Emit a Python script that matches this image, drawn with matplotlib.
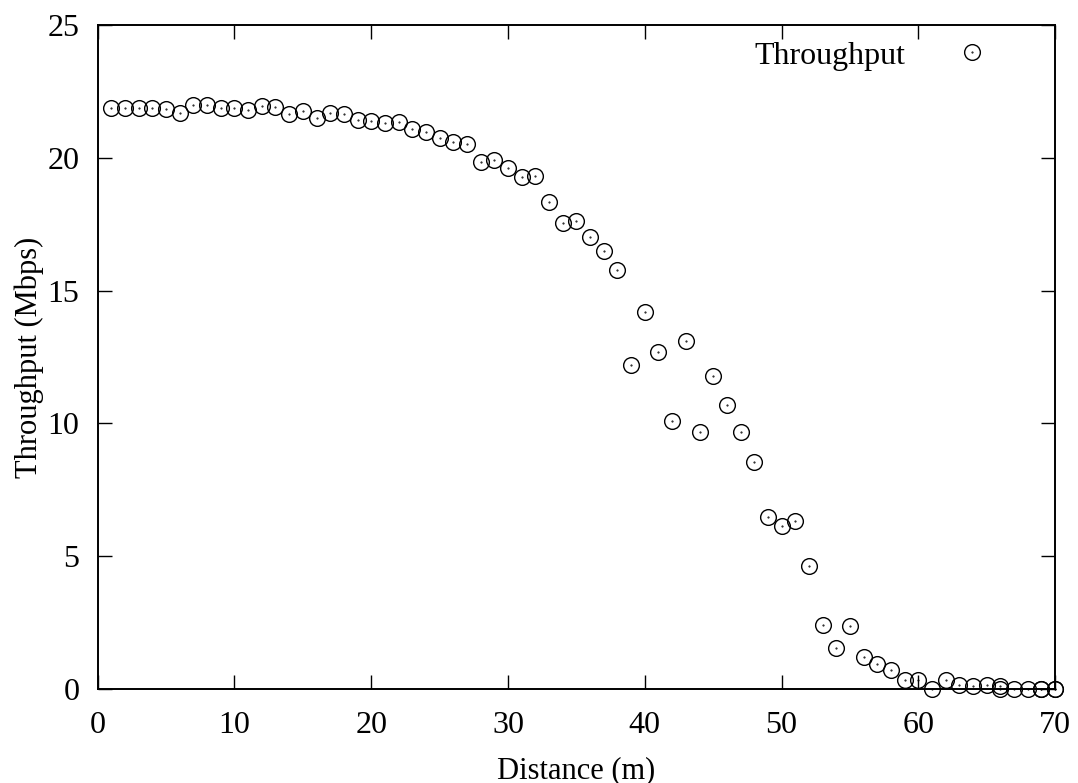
import matplotlib
matplotlib.use("Agg")
import matplotlib.pyplot as plt
from matplotlib.legend_handler import HandlerTuple

distance = list(range(1, 67)) + [66, 67, 68, 69, 69, 70, 70]
throughput = [
    21.87, 21.87, 21.87, 21.87, 21.85, 21.68, 21.99, 21.98, 21.89, 21.88,
    21.80, 21.95, 21.92, 21.65, 21.78, 21.50, 21.70, 21.65, 21.44, 21.40,
    21.30, 21.35, 21.08, 20.99, 20.73, 20.60, 20.54, 19.85, 19.92, 19.62,
    19.29, 19.33, 18.33, 17.53, 17.61, 17.01, 16.48, 15.79, 12.19, 14.21,
    12.69, 10.10, 13.09, 9.67, 11.80, 10.71, 9.66, 8.53, 6.49, 6.14,
    6.32, 4.62, 2.42, 1.55, 2.37, 1.21, 0.94, 0.71, 0.33, 0.34,
    0.01, 0.33, 0.16, 0.11, 0.16, 0.11,
    0.0, 0.0, 0.0, 0.0, 0.0, 0.0, 0.0,
]

plt.rcParams['font.family'] = ['Liberation Serif', 'DejaVu Serif']
plt.rcParams['font.size'] = 22

fig = plt.figure(figsize=(10.78, 7.83), dpi=100)
ax = fig.add_axes([0.0906, 0.120, 0.8882, 0.848])

ring, = ax.plot(distance, throughput, 'o', ms=11.3, mfc='none', mec='black',
                mew=1.0, clip_on=False)
dot, = ax.plot(distance, throughput, '.', ms=1.0, color='black',
               clip_on=False)

ax.set_xlim(0, 70)
ax.set_ylim(0, 25)
ax.set_xticks(range(0, 71, 10))
ax.set_yticks(range(0, 26, 5))
ax.tick_params(direction='in', length=10, width=1.0, top=True, right=True,
               labelsize=23)
ax.tick_params(axis='x', pad=16)
ax.tick_params(axis='y', pad=13)
for s in ax.spines.values():
    s.set_linewidth(1.4)

ax.set_xlabel('Distance (m)', fontsize=22)
ax.set_ylabel('Throughput (Mbps)', fontsize=22)
ax.xaxis.set_label_coords(0.5, -0.101)
ax.yaxis.set_label_coords(-0.056, 0.5)

ax.legend([(ring, dot)], ['Throughput'], loc='upper right',
          handler_map={tuple: HandlerTuple(ndivide=1)},
          frameon=False, markerfirst=False, fontsize=23,
          bbox_to_anchor=(0.960, 1.019), handlelength=1.0, handletextpad=1.6)

fig.savefig('out.png', dpi=100)
